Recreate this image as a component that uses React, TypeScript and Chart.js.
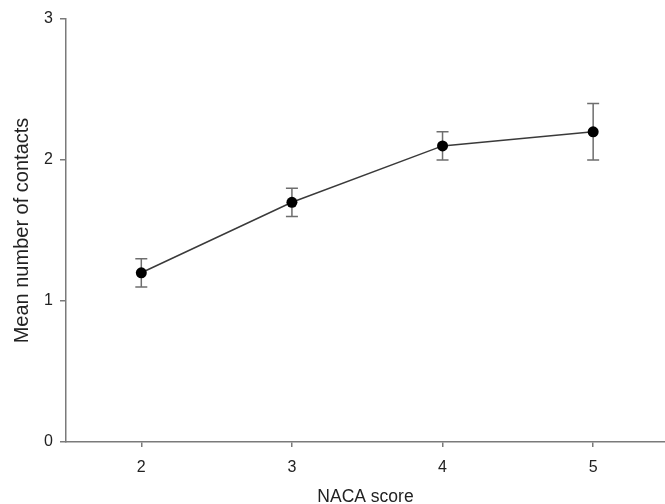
import React, { useEffect, useRef } from "react";
import { Chart, registerables } from "chart.js";

Chart.register(...registerables);

const nacaScores = [2, 3, 4, 5];
const meanContacts = [1.2, 1.7, 2.1, 2.2];
const errLow = [1.1, 1.6, 2.0, 2.0];
const errHigh = [1.3, 1.8, 2.2, 2.4];
const yTickValues = [0, 1, 2, 3];
const xTickValues = [2, 3, 4, 5];

const FONT = "'Liberation Sans', Arial, Helvetica, sans-serif";
const AXIS = "#7a7a7a";

const errorBarPlugin = {
  id: "errorBars",
  afterDatasetsDraw(chart: any) {
    const ctx = chart.ctx;
    const xs = chart.scales.x;
    const ys = chart.scales.y;
    ctx.save();
    ctx.strokeStyle = "#6e6e6e";
    ctx.lineWidth = 1.5;
    nacaScores.forEach((v, i) => {
      const px = xs.getPixelForValue(v);
      const top = ys.getPixelForValue(errHigh[i]);
      const bot = ys.getPixelForValue(errLow[i]);
      const cap = 6;
      ctx.beginPath();
      ctx.moveTo(px, top);
      ctx.lineTo(px, bot);
      ctx.moveTo(px - cap, top);
      ctx.lineTo(px + cap, top);
      ctx.moveTo(px - cap, bot);
      ctx.lineTo(px + cap, bot);
      ctx.stroke();
    });
    const meta = chart.getDatasetMeta(0);
    ctx.fillStyle = "#000";
    meta.data.forEach((pt: any) => {
      ctx.beginPath();
      ctx.arc(pt.x, pt.y, 5.5, 0, Math.PI * 2);
      ctx.fill();
    });
    ctx.restore();
  },
};

export default function App() {
  const ref = useRef<HTMLCanvasElement>(null);
  useEffect(() => {
    if (!ref.current) return;
    const chart = new Chart(ref.current, {
      type: "line",
      data: {
        datasets: [
          {
            data: nacaScores.map((x, i) => ({ x, y: meanContacts[i] })),
            borderColor: "#3a3a3a",
            borderWidth: 1.5,
            pointRadius: 0,
            backgroundColor: "#000",
            tension: 0,
          },
        ],
      },
      options: {
        animation: false,
        responsive: false,
        devicePixelRatio: 1,
        layout: { padding: { top: 19, right: 0, left: 0, bottom: 0 } },
        plugins: { legend: { display: false }, tooltip: { enabled: false } },
        scales: {
          x: {
            type: "linear",
            min: 1.5,
            max: 5.477,
            afterBuildTicks: (s: any) => {
              s.ticks = xTickValues.map((v) => ({ value: v }));
            },
            afterFit: (s: any) => {
              s.height = 62;
            },
            grid: {
              drawOnChartArea: false,
              drawTicks: true,
              tickLength: 5,
              color: AXIS,
              lineWidth: 1.5,
            },
            border: { display: true, color: AXIS, width: 1.5 },
            ticks: {
              color: "#222",
              font: { family: FONT, size: 16 },
              padding: 11,
              maxRotation: 0,
            },
            title: {
              display: true,
              text: "NACA score",
              color: "#222",
              font: { family: FONT, size: 17.5, lineHeight: 0.8 },
              padding: { top: 0, bottom: 0 },
            },
          },
          y: {
            type: "linear",
            min: 0,
            max: 3,
            afterBuildTicks: (s: any) => {
              s.ticks = yTickValues.map((v) => ({ value: v }));
            },
            afterFit: (s: any) => {
              s.width = 66;
            },
            grid: {
              drawOnChartArea: false,
              drawTicks: true,
              tickLength: 6,
              color: AXIS,
              lineWidth: 1.5,
            },
            border: { display: true, color: AXIS, width: 1.5 },
            ticks: {
              color: "#222",
              font: { family: FONT, size: 16 },
              padding: 7,
            },
            title: {
              display: true,
              text: "Mean number of contacts",
              color: "#222",
              font: { family: FONT, size: 20, lineHeight: 1.2 },
              padding: { top: 10, bottom: 0 },
            },
          },
        },
      },
      plugins: [errorBarPlugin],
    });
    return () => chart.destroy();
  }, []);
  return (
    <div style={{ position: "absolute", left: 0, top: 0, width: 665, height: 504, background: "#fff" }}>
      <canvas ref={ref} width={665} height={504} />
    </div>
  );
}
